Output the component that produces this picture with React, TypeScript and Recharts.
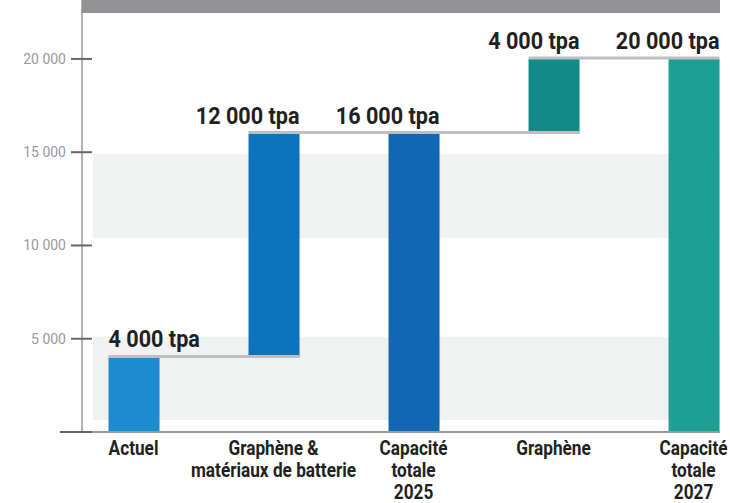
import React from "react";
import { BarChart, Bar, XAxis, YAxis, LabelList, ReferenceArea } from "recharts";

const categoryLines: string[][] = [
  ["Actuel"],
  ["Graphène &", "matériaux de batterie"],
  ["Capacité", "totale", "2025"],
  ["Graphène"],
  ["Capacité", "totale", "2027"],
];
const baseValues = [0, 4000, 0, 16000, 0];
const stepValues = [4000, 12000, 16000, 4000, 20000];
const barColors = ["#1e8bd0", "#0a75bd", "#1167b4", "#128a86", "#1f9e95"];
const yTicks = [0, 5000, 10000, 15000, 20000];
const bandRanges: [number, number][] = [
  [650, 5100],
  [10400, 14900],
];

const data = categoryLines.map((_, i) => ({ i, base: baseValues[i], value: stepValues[i] }));

const fmt = (v: number) => String(v).replace(/\B(?=(\d{3})+(?!\d))/g, " ");

const X_DOMAIN: [number, number] = [-0.368, 4.189];
const BAND_X_START = -0.29;

let prevBar: { x: number; y: number } | null = null;

const WaterfallBar = (props: any) => {
  const { x, y, width, height, index } = props;
  const p = index === 0 ? null : prevBar;
  prevBar = { x, y };
  return (
    <g>
      <rect x={x} y={y} width={width} height={height} fill={barColors[index]} />
      {p && (
        <line x1={p.x} x2={x + width} y1={p.y - 1} y2={p.y - 1} stroke="#bfbfc3" strokeWidth={3} />
      )}
    </g>
  );
};

const ValueLabel = (props: any) => {
  const { x, y, width, index } = props;
  const start = index === 0;
  const tx = start ? x : x + width;
  return (
    <text
      transform={`translate(${tx},${y - 10}) scale(0.9,1)`}
      textAnchor={start ? "start" : "end"}
      fontFamily="Roboto"
      fontWeight={700}
      fontSize={24}
      fill="#231f20"
    >
      {fmt(stepValues[index])} tpa
    </text>
  );
};

const YTick = (props: any) => {
  const { x, y, payload } = props;
  const v = payload.value;
  return (
    <g>
      <line x1={v === 0 ? x - 22 : x - 11} x2={x + 10} y1={y} y2={y} stroke="#666" strokeWidth={2} />
      {v !== 0 && (
        <text x={x - 16} y={y + 5} textAnchor="end" fontFamily="Roboto" fontSize={14} fill="#9a9a9a">
          {fmt(v)}
        </text>
      )}
    </g>
  );
};

const XTick = (props: any) => {
  const { x, y, payload } = props;
  const lines = categoryLines[payload.value] || [];
  return (
    <text
      transform={`translate(${x},${y + 23}) scale(0.82,1)`}
      textAnchor="middle"
      fontFamily="Roboto"
      fontWeight={700}
      fontSize={21}
      fill="#231f20"
    >
      {lines.map((l, k) => (
        <tspan key={k} x={0} dy={k === 0 ? 0 : 22}>
          {l}
        </tspan>
      ))}
    </text>
  );
};

export default function App() {
  prevBar = null;
  return (
    <div style={{ position: "absolute", left: 0, top: 0, width: 730, height: 503, background: "#fff", overflow: "hidden" }}>
      <BarChart width={730} height={503} data={data} margin={{ top: 0, right: 10, bottom: 11, left: 0 }}>
        {bandRanges.map(([a, b], k) => (
          <ReferenceArea
            key={k}
            x1={BAND_X_START}
            x2={X_DOMAIN[1]}
            y1={a}
            y2={b}
            fill="#f0f1f1"
            fillOpacity={1}
            stroke="none"
            ifOverflow="hidden"
          />
        ))}
        <XAxis
          type="number"
          dataKey="i"
          domain={X_DOMAIN}
          ticks={[0, 1, 2, 3, 4]}
          allowDataOverflow
          interval={0}
          height={60}
          tickLine={false}
          tickSize={0}
          tickMargin={0}
          axisLine={{ stroke: "#9a9a9a", strokeWidth: 2 }}
          tick={<XTick />}
        />
        <YAxis
          width={82}
          domain={[0, 23160]}
          ticks={yTicks}
          allowDataOverflow
          interval={0}
          tickLine={false}
          tickSize={0}
          tickMargin={0}
          axisLine={{ stroke: "#9a9a9a", strokeWidth: 1.5 }}
          tick={<YTick />}
        />
        <Bar dataKey="base" stackId="w" fill="transparent" barSize={51} isAnimationActive={false} />
        <Bar dataKey="value" stackId="w" barSize={51} shape={<WaterfallBar />} isAnimationActive={false}>
          <LabelList dataKey="value" content={<ValueLabel />} />
        </Bar>
      </BarChart>
      <div style={{ position: "absolute", left: 82, top: 0, width: 638, height: 13, background: "#939396" }} />
    </div>
  );
}
